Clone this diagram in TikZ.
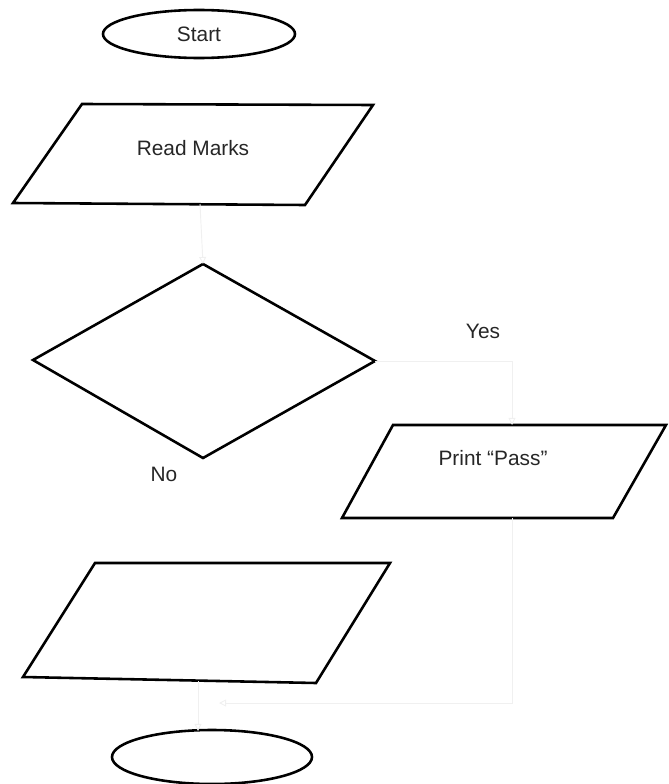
\documentclass[tikz,border=0pt]{standalone}
\usepackage{fontspec}
\setmainfont{Liberation Sans}
\usetikzlibrary{arrows.meta}
\begin{document}
\begin{tikzpicture}[x=0.03cm,y=-0.03cm,
  shapeline/.style={draw=black,line width=2.2pt,line join=miter},
  lbl/.style={font=\fontsize{17.8}{20}\selectfont,inner sep=0pt,text=black!85},
  faint/.style={draw=black!6,line width=0.8pt,-{Triangle[open,length=6pt,width=6pt]}}]
\useasboundingbox (0,0) rectangle (668,784);
% key points
\coordinate (rmB) at (200,204);
\coordinate (dT) at (203,264);
\coordinate (dL) at (33,360);
\coordinate (dR) at (375,361);
\coordinate (dB) at (203,458);
\coordinate (yesC) at (512,361);
\coordinate (ppT) at (512,425);
\coordinate (ppB) at (512,518);
\coordinate (ppC) at (512,703);
\coordinate (joinR) at (219,703);
\coordinate (outB) at (198,681);
\coordinate (endT) at (198,731);
% Start terminal
\draw[shapeline] (199,34) ellipse [x radius=96, y radius=24];
\node[lbl] (start) at (199,34) {Start};
% Read Marks
\draw[shapeline] (82,104) -- (373,105) -- (305,205) -- (13,203) -- cycle;
\node[lbl] (read) at (193,148) {Read Marks};
% Decision
\draw[shapeline] (dT) -- (dR) -- (dB) -- (dL) -- cycle;
\node[lbl] (yes) at (483,331) {Yes};
\node[lbl] (no) at (164,474) {No};
% Print Pass
\draw[shapeline] (393,425) -- (666,425) -- (613,518) -- (342,518) -- cycle;
\node[lbl] (pass) at (493,458) {Print “Pass”};
% empty output box
\draw[shapeline] (95,563) -- (390,563) -- (316,683) -- (23,677) -- cycle;
% End terminal
\draw[shapeline] (212,757) ellipse [x radius=100, y radius=27];
% faint connectors
\draw[faint] (rmB) -- (dT);
\draw[faint] (dR) -- (yesC) -- (ppT);
\draw[faint] (ppB) -- (ppC) -- (joinR);
\draw[faint] (outB) -- (endT);
\end{tikzpicture}
\end{document}
